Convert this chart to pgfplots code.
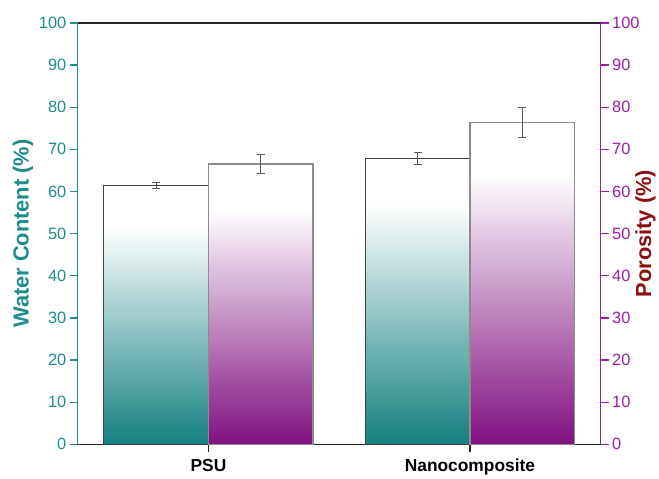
\documentclass[border=0pt]{standalone}
\usepackage{pgfplots}
\pgfplotsset{compat=1.18}
\usepackage{fontspec}
\setmainfont{Liberation Sans}
\definecolor{tealc}{RGB}{20,128,128}
\definecolor{tealax}{RGB}{30,140,140}
\definecolor{purc}{RGB}{128,16,128}
\definecolor{purax}{RGB}{155,30,165}
\definecolor{porred}{RGB}{140,16,16}
\pgfdeclareverticalshading{tealfade}{100bp}{color(0bp)=(tealc); color(25bp)=(tealc); color(67bp)=(white); color(100bp)=(white)}
\pgfdeclareverticalshading{purfade}{100bp}{color(0bp)=(purc); color(25bp)=(purc); color(67bp)=(white); color(100bp)=(white)}
\pgfplotsset{
  common/.style={
    width=525bp, height=423bp, scale only axis,
    xmin=-0.5, xmax=1.5, ymin=0, ymax=100,
    ytick={0,10,...,100},
    tick align=outside, major tick length=8bp,
    /pgf/number format/assume math mode=true,
    x axis line style={-, black!85, line width=1.3pt},
    y axis line style={-, line width=1.3pt},
    ticklabel style={font=\fontsize{16.5}{16.5}\selectfont},
    ylabel style={font=\bfseries\fontsize{22}{22}\selectfont},
    bar width=0.4,
  },
  wbar/.style={ybar, bar shift=-0.2, draw=black!75, line width=1.2pt, shading=tealfade},
  pbar/.style={ybar, bar shift=0.2, draw=black!45, line width=1.2pt, shading=purfade},
  ebar/.style={forget plot, draw=none, mark=none,
    error bars/.cd, y dir=both, y explicit,
    error mark=|,
    error bar style={draw=black!65, solid, line width=1.1pt},
    error mark options={draw=black!65, solid, mark size=4bp, line width=1.1pt}},
}
\begin{document}
\begin{tikzpicture}
\begin{axis}[common,
  axis y line*=left, axis x line*=bottom,
  xtick={0,1}, xticklabels={PSU,Nanocomposite},
  x tick label style={font=\bfseries\fontsize{17.5}{17.5}\selectfont, yshift=-3.5bp},
  x tick style={black!85, line width=1.3pt},
  y axis line style={tealax},
  y tick style={tealax, line width=1.3pt},
  y tick label style={tealax},
  ylabel={Water Content (\%)},
  ylabel style={tealax},
  ylabel shift=-1bp,
]
\addplot[wbar] coordinates {(0,61.4)};
\addplot[wbar] coordinates {(1,67.8)};
\addplot[ebar] coordinates {(-0.2,61.4) +- (0,0.7) (0.8,67.8) +- (0,1.4)};
\coordinate (A) at (rel axis cs:0,0);
\coordinate (B) at (rel axis cs:1,1);
\end{axis}
\begin{axis}[common,
  axis y line*=right, axis x line*=top,
  xtick=\empty,
  y axis line style={purax},
  y tick style={purax, line width=1.3pt},
  y tick label style={purax},
  ylabel={Porosity (\%)},
  ylabel style={porred},
  ylabel shift=-11bp,
]
\addplot[pbar] coordinates {(0,66.5)};
\addplot[pbar] coordinates {(1,76.4)};
\addplot[ebar] coordinates {(0.2,66.5) +- (0,2.2) (1.2,76.4) +- (0,3.5)};
\end{axis}
\path ([shift={(-78bp,-31bp)}]A) rectangle ([shift={(56bp,23bp)}]B);
\end{tikzpicture}
\end{document}
